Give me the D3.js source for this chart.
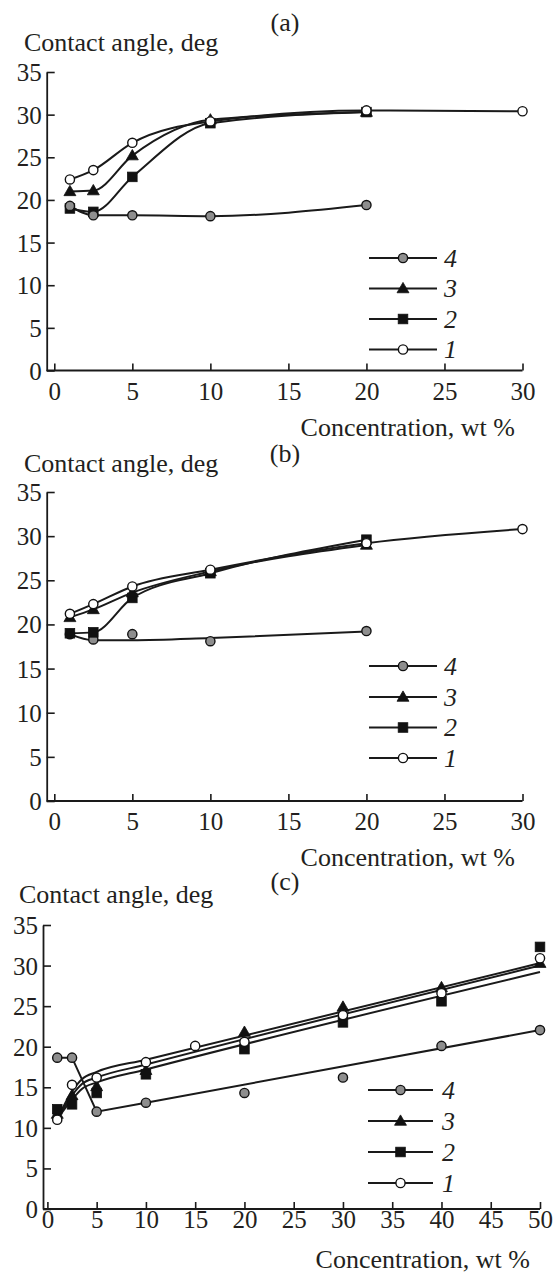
<!DOCTYPE html>
<html>
<head>
<meta charset="utf-8">
<script src="https://cdn.jsdelivr.net/npm/d3@7"></script>
<style>
  html, body { margin: 0; padding: 0; background: #fff; }
  svg { display: block; }
  text { font-family: "Liberation Serif", "Times New Roman", serif; fill: #231f20; }
</style>
</head>
<body>
<svg id="chart" width="554" height="1273"></svg>
<script>
// ---------- data ----------
// tick labels
const angleTicks = [0, 5, 10, 15, 20, 25, 30, 35];
const concTicksAB = [0, 5, 10, 15, 20, 25, 30];
const concTicksC = [0, 5, 10, 15, 20, 25, 30, 35, 40, 45, 50];
const seriesNames = ["4", "3", "2", "1"];
const panelTitles = ["(a)", "(b)", "(c)"];
const yTitle = "Contact angle, deg";
const xTitle = "Concentration, wt %";

// panel (a)
const aConc1 = [1, 2.5, 5, 10, 20, 30];
const aAngle1 = [22.4, 23.5, 26.7, 29.2, 30.5, 30.4];
const aConc = [1, 2.5, 5, 10, 20];
const aAngle2 = [19.0, 18.6, 22.7, 29.0, 30.3];
const aAngle3 = [21.0, 21.1, 25.2, 29.4, 30.3];
const aAngle4 = [19.3, 18.2, 18.2, 18.1, 19.4];

// panel (b)
const bConc1 = [1, 2.5, 5, 10, 20, 30];
const bAngle1 = [21.2, 22.3, 24.3, 26.2, 29.2, 30.8];
const bConc = [1, 2.5, 5, 10, 20];
const bAngle2 = [19.0, 19.1, 23.0, 25.8, 29.6];
const bAngle3 = [20.8, 21.7, 23.6, 26.0, 29.0];
const bAngle4 = [18.9, 18.3, 18.9, 18.1, 19.25];
// smoothed trend for series 4
const bFit4Conc = [1, 2.5, 5, 10, 20];
const bFit4Angle = [18.9, 18.2, 18.2, 18.45, 19.2];

// panel (c)
const cConc1 = [1, 2.5, 5, 10, 15, 20, 30, 40, 50];
const cAngle1 = [11.0, 15.3, 16.2, 18.1, 20.1, 20.6, 23.9, 26.6, 30.9];
const cConc = [1, 2.5, 5, 10, 20, 30, 40, 50];
const cAngle2 = [12.3, 12.9, 14.3, 16.6, 19.7, 23.0, 25.6, 32.3];
const cAngle3 = [11.7, 14.0, 15.1, 17.1, 21.8, 24.9, 27.3, 30.3];
const cAngle4 = [18.65, 18.65, 12.0, 13.1, 14.3, 16.2, 20.1, 22.05];
// fitted trend curves
const cFitConc = [1.2, 2.5, 3.5, 5, 10, 50];
const cFit1 = [11.5, 14.0, 15.4, 16.2, 17.8, 30.0];
const cFit2 = [11.4, 13.5, 14.8, 15.6, 17.2, 29.2];
const cFit3 = [11.6, 14.5, 16.0, 16.9, 18.4, 30.3];
const cFit4Conc = [1, 2.5, 5, 10, 50];
const cFit4 = [18.65, 18.65, 12.0, 13.1, 22.05];

// ---------- helpers ----------
const zip = (xs, ys) => xs.map((v, i) => ({ c: v, a: ys[i] }));

const markerStyle = {
  "1": { shape: "circle", fill: "#ffffff" },
  "2": { shape: "square", fill: "#111111" },
  "3": { shape: "triangle", fill: "#111111" },
  "4": { shape: "circle", fill: "#8e8e8e" }
};

function drawMarker(g, name, cx, cy) {
  const st = markerStyle[name];
  if (st.shape === "circle") {
    g.append("circle").attr("cx", cx).attr("cy", cy).attr("r", 4.6)
      .attr("fill", st.fill).attr("stroke", "#111").attr("stroke-width", 1.4);
  } else if (st.shape === "square") {
    g.append("rect").attr("x", cx - 4.8).attr("y", cy - 4.8)
      .attr("width", 9.6).attr("height", 9.6)
      .attr("fill", st.fill).attr("stroke", "#111").attr("stroke-width", 0.8);
  } else {
    g.append("path").attr("transform", `translate(${cx},${cy + 0.8})`)
      .attr("d", d3.symbol(d3.symbolTriangle, 62)())
      .attr("fill", st.fill).attr("stroke", "#111").attr("stroke-width", 0.8);
  }
}

// ---------- panels ----------
const panels = [
  {
    title: panelTitles[0], xMax: 30, xTicks: concTicksAB,
    x0: 54.3, x1: 522.5, yTop: 72, yBot: 370.5, axisX: 46.7,
    titleX: 285, titleY: 31, yTitleX: 24, yTitleY: 51,
    xTitleX: 515, xTitleY: 436, xLabelY: 400,
    legendRows: [258, 288.5, 319, 349.5], legendX: [369, 437], legendMark: 403, legendText: 444,
    lines: [
      { name: "4", pts: zip(aConc, aAngle4), curve: d3.curveMonotoneX },
      { name: "2", pts: zip(aConc, aAngle2), curve: d3.curveMonotoneX },
      { name: "3", pts: zip(aConc, aAngle3), curve: d3.curveMonotoneX },
      { name: "1", pts: zip(aConc1, aAngle1), curve: d3.curveMonotoneX }
    ],
    marks: [
      { name: "2", pts: zip(aConc, aAngle2) },
      { name: "4", pts: zip(aConc, aAngle4) },
      { name: "3", pts: zip(aConc, aAngle3) },
      { name: "1", pts: zip(aConc1, aAngle1) }
    ]
  },
  {
    title: panelTitles[1], xMax: 30, xTicks: concTicksAB,
    x0: 54.3, x1: 522.5, yTop: 492, yBot: 801, axisX: 46.7,
    titleX: 285, titleY: 461.5, yTitleX: 24, yTitleY: 471.5,
    xTitleX: 515, xTitleY: 866, xLabelY: 830,
    legendRows: [666, 697, 727.5, 758], legendX: [369, 437], legendMark: 403, legendText: 444,
    lines: [
      { name: "4", pts: zip(bFit4Conc, bFit4Angle), curve: d3.curveMonotoneX },
      { name: "2", pts: zip(bConc, bAngle2), curve: d3.curveMonotoneX },
      { name: "3", pts: zip(bConc, bAngle3), curve: d3.curveMonotoneX },
      { name: "1", pts: zip(bConc1, bAngle1), curve: d3.curveMonotoneX }
    ],
    marks: [
      { name: "4", pts: zip(bConc, bAngle4) },
      { name: "2", pts: zip(bConc, bAngle2) },
      { name: "3", pts: zip(bConc, bAngle3) },
      { name: "1", pts: zip(bConc1, bAngle1) }
    ]
  },
  {
    title: panelTitles[2], xMax: 50, xTicks: concTicksC,
    x0: 47.4, x1: 540, yTop: 925, yBot: 1209, axisX: 43,
    titleX: 285, titleY: 890, yTitleX: 19, yTitleY: 903,
    xTitleX: 530, xTitleY: 1268, xLabelY: 1228,
    legendRows: [1090, 1121, 1152, 1183], legendX: [368, 433], legendMark: 400.5, legendText: 442,
    lines: [
      { name: "4", pts: zip(cFit4Conc, cFit4), curve: d3.curveLinear },
      { name: "2", pts: zip(cFitConc, cFit2), curve: d3.curveMonotoneX },
      { name: "1", pts: zip(cFitConc, cFit1), curve: d3.curveMonotoneX },
      { name: "3", pts: zip(cFitConc, cFit3), curve: d3.curveMonotoneX }
    ],
    marks: [
      { name: "4", pts: zip(cConc, cAngle4) },
      { name: "3", pts: zip(cConc, cAngle3) },
      { name: "2", pts: zip(cConc, cAngle2) },
      { name: "1", pts: zip(cConc1, cAngle1) }
    ]
  }
];

const svg = d3.select("#chart");
svg.append("rect").attr("width", 554).attr("height", 1273).attr("fill", "#fff");

const INK = "#1a1a1a";

panels.forEach(p => {
  const g = svg.append("g");
  const x = d3.scaleLinear().domain([0, p.xMax]).range([p.x0, p.x1]);
  const y = d3.scaleLinear().domain([0, 35]).range([p.yBot, p.yTop]);

  // titles
  g.append("text").attr("x", p.titleX).attr("y", p.titleY)
    .attr("text-anchor", "middle").attr("font-size", 26).text(p.title);
  g.append("text").attr("x", p.yTitleX).attr("y", p.yTitleY)
    .attr("font-size", 26).text(yTitle);
  g.append("text").attr("x", p.xTitleX).attr("y", p.xTitleY)
    .attr("text-anchor", "end").attr("font-size", 26).text(xTitle);

  // x axis (inward ticks)
  const xa = g.append("g").attr("transform", `translate(0,${p.yBot})`)
    .call(d3.axisBottom(x).tickValues(p.xTicks).tickSize(-7).tickSizeOuter(0).tickFormat(d3.format("d")));
  xa.select(".domain").remove();
  xa.selectAll(".tick line").attr("stroke", INK).attr("stroke-width", 1.6);
  xa.selectAll(".tick text").attr("y", p.xLabelY - p.yBot).attr("dy", 0)
    .attr("font-size", 25).attr("font-family", "Liberation Serif").attr("fill", "#231f20");
  g.append("line").attr("x1", p.axisX).attr("x2", p.x1)
    .attr("y1", p.yBot).attr("y2", p.yBot)
    .attr("stroke", INK).attr("stroke-width", 1.8);

  // y axis (inward ticks)
  const ya = g.append("g").attr("transform", `translate(${p.axisX},0)`)
    .call(d3.axisLeft(y).tickValues(angleTicks).tickSize(-8).tickSizeOuter(0).tickFormat(d3.format("d")));
  ya.select(".domain").attr("stroke", INK).attr("stroke-width", 1.8);
  ya.selectAll(".tick line").attr("stroke", INK).attr("stroke-width", 1.6);
  ya.selectAll(".tick text").attr("x", -5).attr("dy", "0.34em")
    .attr("font-size", 25).attr("font-family", "Liberation Serif").attr("fill", "#231f20");

  // curves
  p.lines.forEach(s => {
    const line = d3.line().x(d => x(d.c)).y(d => y(d.a)).curve(s.curve);
    g.append("path").attr("d", line(s.pts)).attr("fill", "none")
      .attr("stroke", INK).attr("stroke-width", 2);
  });

  // markers
  p.marks.forEach(s => {
    s.pts.forEach(d => drawMarker(g, s.name, x(d.c), y(d.a)));
  });

  // legend
  seriesNames.forEach((name, i) => {
    const ly = p.legendRows[i];
    g.append("line").attr("x1", p.legendX[0]).attr("x2", p.legendX[1])
      .attr("y1", ly).attr("y2", ly).attr("stroke", INK).attr("stroke-width", 2);
    drawMarker(g, name, p.legendMark, ly);
    g.append("text").attr("x", p.legendText).attr("y", ly + 8.5)
      .attr("font-size", 26).attr("font-style", "italic").text(name);
  });
});
</script>
</body>
</html>
